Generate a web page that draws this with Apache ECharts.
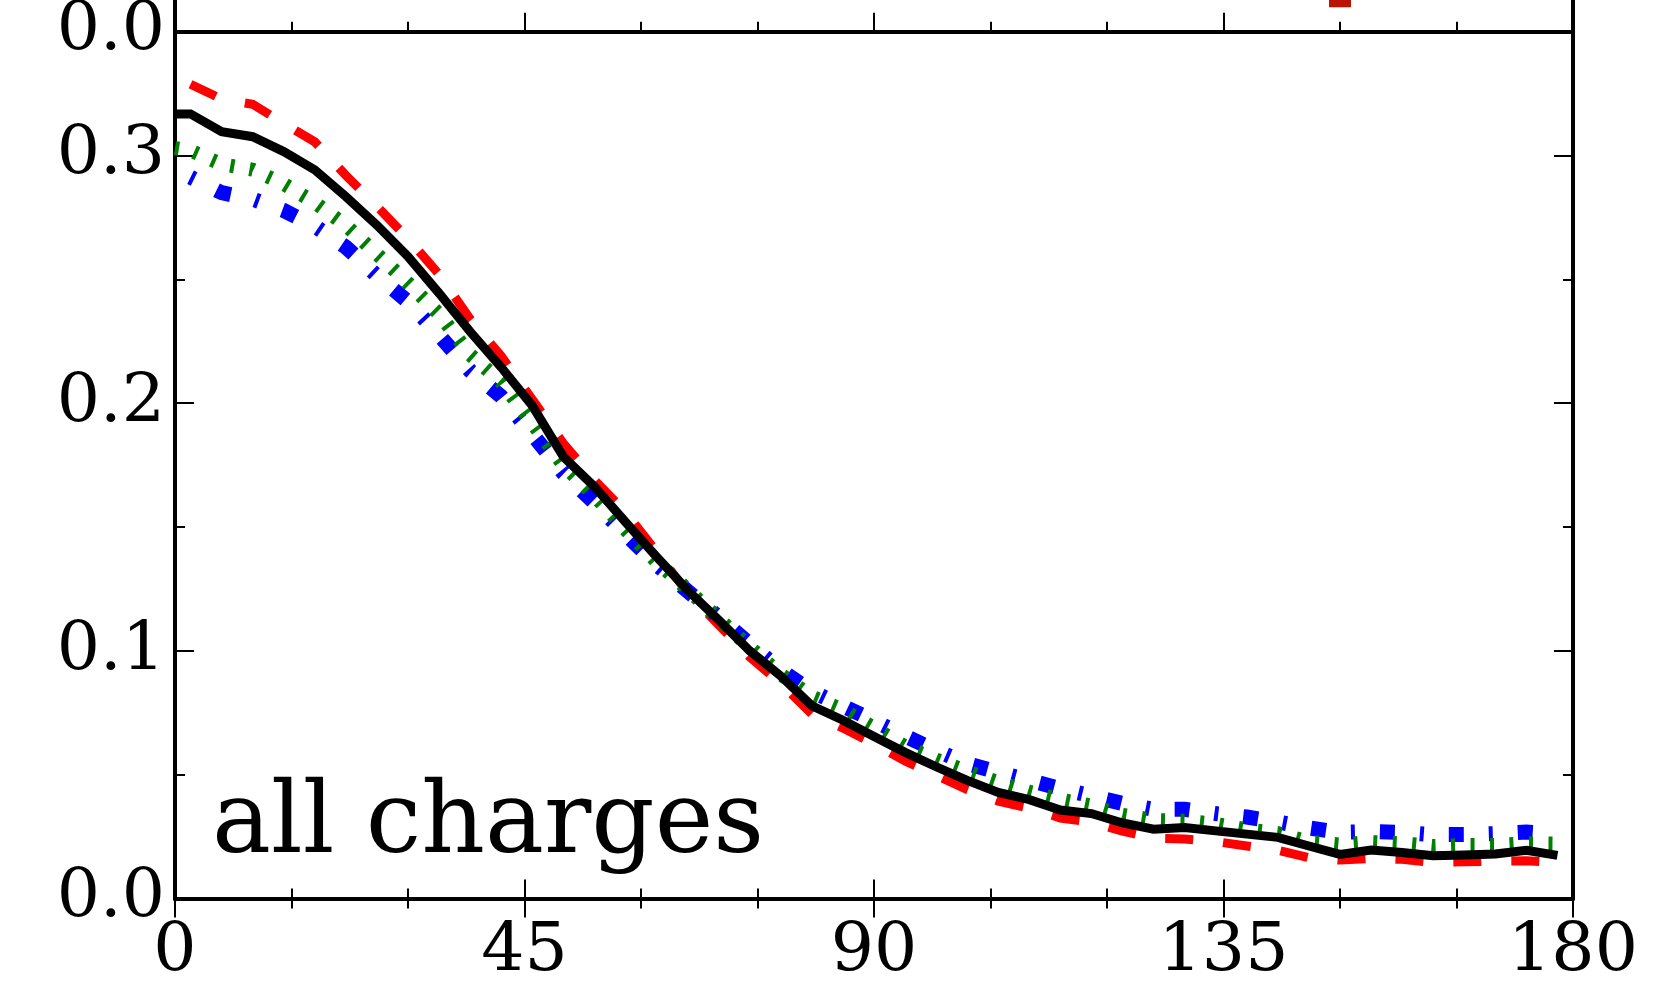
<!DOCTYPE html>
<html>
<head>
<meta charset="utf-8">
<script src="https://cdn.jsdelivr.net/npm/echarts@6/dist/echarts.min.js"></script>
<style>
html,body{margin:0;padding:0;background:#fff;}
#chart{width:1665px;height:994px;}
</style>
</head>
<body>
<div id="chart"></div>
<script>
// scattering angle (degrees)
const angles = [0, 2, 6, 10, 14, 18, 22, 26, 30, 34, 38, 42, 46, 50, 54, 58, 62, 66, 70, 74, 78, 82, 86, 90, 94, 98, 102, 106, 110, 114, 118, 122, 126, 130, 134, 138, 142, 146, 150, 154, 158, 162, 166, 170, 174, 178];

// black solid
const seriesBlack = [0.3168, 0.3168, 0.3096, 0.3076, 0.3016, 0.2942, 0.2834, 0.2719, 0.2592, 0.2444, 0.2289, 0.2145, 0.1990, 0.1784, 0.1663, 0.1520, 0.1380, 0.1245, 0.1125, 0.1000, 0.0898, 0.0778, 0.0720, 0.0654, 0.0590, 0.0532, 0.0477, 0.0428, 0.0399, 0.0357, 0.0343, 0.0305, 0.0280, 0.0287, 0.0273, 0.0260, 0.0247, 0.0212, 0.0178, 0.0196, 0.0186, 0.0173, 0.0176, 0.0180, 0.0195, 0.0174];

// red dashed
const seriesRed = [null, 0.3288, 0.3228, 0.3207, 0.3130, 0.3055, 0.2920, 0.2795, 0.2665, 0.2520, 0.2340, 0.2190, 0.2015, 0.1838, 0.1690, 0.1560, 0.1400, 0.1235, 0.1105, 0.0975, 0.0868, 0.0745, 0.0688, 0.0624, 0.0555, 0.0497, 0.0440, 0.0393, 0.0365, 0.0325, 0.0308, 0.0272, 0.0243, 0.0240, 0.0230, 0.0212, 0.0195, 0.0165, 0.0155, 0.0162, 0.0158, 0.0146, 0.0148, 0.0151, 0.0152, 0.0146];

// green dotted
const seriesGreen = [0.3030, 0.3020, 0.2965, 0.2943, 0.2885, 0.2810, 0.2718, 0.2602, 0.2485, 0.2360, 0.2196, 0.2085, 0.1920, 0.1750, 0.1627, 0.1490, 0.1360, 0.1248, 0.1130, 0.1015, 0.0905, 0.0815, 0.0762, 0.0689, 0.0614, 0.0561, 0.0513, 0.0470, 0.0431, 0.0400, 0.0375, 0.0338, 0.0317, 0.0314, 0.0301, 0.0279, 0.0264, 0.0229, 0.0218, 0.0228, 0.0223, 0.0212, 0.0216, 0.0216, 0.0223, 0.0222];

// blue dash-dot
const seriesBlue = [null, 0.2912, 0.2850, 0.2824, 0.2778, 0.2715, 0.2630, 0.2515, 0.2410, 0.2275, 0.2131, 0.2027, 0.1875, 0.1718, 0.1598, 0.1472, 0.1348, 0.1241, 0.1136, 0.1028, 0.0922, 0.0836, 0.0777, 0.0718, 0.0656, 0.0598, 0.0545, 0.0510, 0.0477, 0.0444, 0.0414, 0.0384, 0.0360, 0.0360, 0.0343, 0.0329, 0.0309, 0.0285, 0.0267, 0.0270, 0.0267, 0.0258, 0.0258, 0.0262, 0.0268, 0.0260];

// marker of the panel above, just visible at the top edge
const upperPanelMarker = [[150, 0.0143]];

const xTicks = [0, 45, 90, 135, 180];
const yTickLabels = ['0.0', '0.1', '0.2', '0.3'];
const panelLabel = 'all charges';

const pair = (vals) => angles.map((a, i) => [a, vals[i]]);

const FONT = 'DejaVu Serif';
const axisLineStyle = { show: true, lineStyle: { color: '#000', width: 4 } };

function xAxisDef(grid, pos, labels) {
  return {
    type: 'value', gridIndex: grid, position: pos, min: xTicks[0], max: xTicks[xTicks.length - 1], interval: 45,
    axisLine: axisLineStyle,
    axisTick: { show: true, inside: true, length: 19, lineStyle: { color: '#000', width: 2 } },
    minorTick: { show: true, splitNumber: 3, length: 10, lineStyle: { color: '#000', width: 2 } },
    axisLabel: labels ? { show: true, color: '#000', fontFamily: FONT, fontSize: 68, margin: 20 } : { show: false },
    splitLine: { show: false }, minorSplitLine: { show: false }
  };
}
function yAxisDef(grid, pos, interval, len, opts) {
  return Object.assign({
    type: 'value', gridIndex: grid, position: pos, min: 0, max: 0.35, interval: interval,
    axisLine: { show: false },
    axisTick: { show: true, inside: true, length: len, lineStyle: { color: '#000', width: 2 } },
    axisLabel: { show: false },
    splitLine: { show: false }
  }, opts || {});
}
const yLabel = {
  show: true, color: '#000', fontFamily: FONT, fontSize: 68, margin: 10,
  showMaxLabel: false,
  formatter: (v) => { const s = v.toFixed(1); return yTickLabels.indexOf(s) >= 0 ? s : ''; }
};

const chart = echarts.init(document.getElementById('chart'), null, { renderer: 'canvas' });
chart.setOption({
  animation: false,
  backgroundColor: '#fff',
  grid: [
    { left: 175, right: 92, top: 31.7, bottom: 95.5, containLabel: false, outerBoundsMode: 'none' },
    { left: 175, right: 92, top: -835.1, height: 866.8, containLabel: false, outerBoundsMode: 'none' }
  ],
  xAxis: [
    xAxisDef(0, 'bottom', true),
    xAxisDef(0, 'top', false),
    xAxisDef(1, 'bottom', false)
  ],
  yAxis: [
    yAxisDef(0, 'left', 0.1, 19, { axisLine: axisLineStyle, axisLabel: yLabel }),
    yAxisDef(0, 'left', 0.05, 10),
    yAxisDef(0, 'right', 0.1, 19, { axisLine: axisLineStyle }),
    yAxisDef(0, 'right', 0.05, 10),
    yAxisDef(1, 'left', 0.1, 19, { axisLine: axisLineStyle, axisLabel: Object.assign({}, yLabel, { showMinLabel: true }) }),
    yAxisDef(1, 'right', 0.1, 19, { axisLine: axisLineStyle })
  ],
  graphic: [{
    type: 'text', x: 212, y: 826, z: 10,
    style: { text: panelLabel, font: '99px "DejaVu Serif"', fill: '#000', verticalAlign: 'middle', align: 'left' }
  }],
  series: [
    { name: 'red', type: 'line', xAxisIndex: 0, yAxisIndex: 0, data: pair(seriesRed), showSymbol: false, symbol: 'none',
      lineStyle: { color: '#ff0000', width: 9, type: [28, 30], cap: 'butt', join: 'miter' }, z: 2 },
    { name: 'blue', type: 'line', xAxisIndex: 0, yAxisIndex: 0, data: pair(seriesBlue), showSymbol: false, symbol: 'none',
      lineStyle: { color: '#0000ff', width: 15, type: [4, 25, 15, 25], cap: 'butt', join: 'miter' }, z: 3 },
    { name: 'green', type: 'line', xAxisIndex: 0, yAxisIndex: 0, data: pair(seriesGreen), showSymbol: false, symbol: 'none',
      lineStyle: { color: '#008000', width: 14, type: [4, 15.5], cap: 'butt', join: 'miter' }, z: 4 },
    { name: 'black', type: 'line', xAxisIndex: 0, yAxisIndex: 0, data: pair(seriesBlack), showSymbol: false, symbol: 'none',
      lineStyle: { color: '#000000', width: 9, type: 'solid', join: 'miter' }, z: 5 },
    { name: 'upper', type: 'scatter', xAxisIndex: 2, yAxisIndex: 4, data: upperPanelMarker,
      symbol: 'rect', symbolSize: 22, itemStyle: { color: '#b81400', opacity: 1 }, clip: false, z: 2 }
  ]
});
</script>
</body>
</html>
